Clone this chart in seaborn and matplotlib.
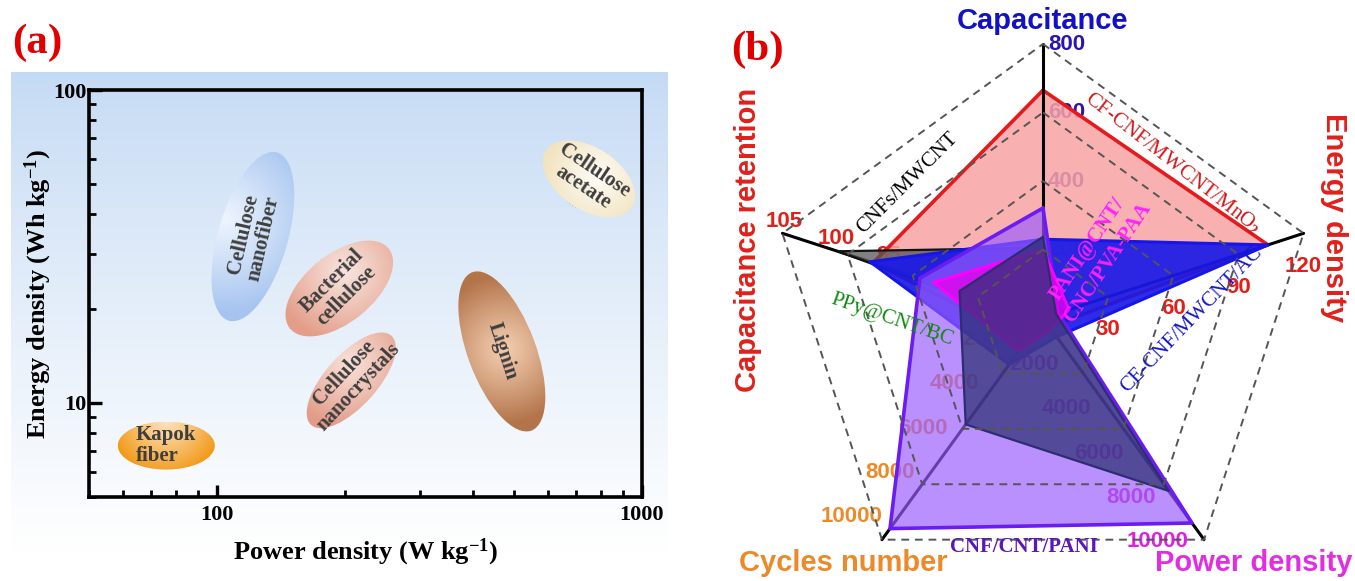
import numpy as np
import matplotlib
matplotlib.use("Agg")
import matplotlib.pyplot as plt
import seaborn as sns
from matplotlib.patches import Ellipse
from matplotlib.transforms import Affine2D, ScaledTranslation, offset_copy
from matplotlib.colors import to_rgb
from matplotlib.ticker import FixedLocator, LogLocator, NullFormatter

# ------------------------------------------------------------------ data (a)
materials = ["Kapok\nfiber", "Cellulose\nnanofiber", "Bacterial\ncellulose",
             "Cellulose\nnanocrystals", "Lignin", "Cellulose\nacetate"]
power_a = [76, 121.5, 194, 207, 468, 750]          # W kg-1
energy_a = [7.3, 34, 23.2, 11.8, 14.6, 52]          # Wh kg-1
x_ticks_a = [100, 1000]
y_ticks_a = [10, 100]

# ------------------------------------------------------------------ data (b)
radar_axes = ["Capacitance", "Energy density", "Power density",
              "Cycles number", "Capacitance retention"]
samples = ["CF-CNF/MWCNT/MnO$_2$", "CNFs/MWCNT", "CE-CNF/MWCNT/AC",
           "CNF/CNT/PANI", "PANI@CNT/\nCNC/PVA-PAA", "PPy@CNT/BC"]
capacitance = [665, 205, 230, 321, 200, 237]
energy = [103.6, 5, 103.6, 7, 12, 6]
power = [400, 300, 850, 9250, 500, 7800]
cycles = [1000, 300, 2100, 9500, 1500, 4800]
retention = [96.3, 99.7, 96.6, 91.8, 90.5, 88]

cap_ticks = [200, 400, 600, 800]
energy_ticks = [30, 60, 90, 120]
power_ticks = [2000, 4000, 6000, 8000, 10000]
cycles_ticks = [2000, 4000, 6000, 8000, 10000]
retention_ticks = [85, 90, 95, 100, 105]
axis_ranges = [(0, 800), (0, 120), (0, 10000), (0, 10000), (80, 105)]

# ------------------------------------------------------------------ styles
W, H, DPI = 1355, 581, 100
sns.set_theme(style="white")
plt.rcParams["font.family"] = ["Liberation Serif", "DejaVu Serif"]
plt.rcParams["mathtext.fontset"] = "custom"
plt.rcParams["mathtext.rm"] = "Liberation Serif:bold"
plt.rcParams["mathtext.it"] = "Liberation Serif:bold"
plt.rcParams["mathtext.bf"] = "Liberation Serif:bold"
SANS = ["Liberation Sans", "DejaVu Sans"]

fig = plt.figure(figsize=(W / DPI, H / DPI), dpi=DPI)
fig.patch.set_facecolor("white")

def fx(px):
    return px / W

def fy(py):
    return 1 - py / H

# ------------------------------------------------------------------ panel (a) background
bg = fig.add_axes([fx(11), fy(568), fx(668 - 11), (568 - 72) / H], zorder=0)
g = np.linspace(0, 1, 256)[:, None]
g = np.clip(g / 0.97, 0, 1) ** 0.85
top = np.array(to_rgb("#c4daf4"))
bot = np.array([1.0, 1.0, 1.0])
img = top[None, None, :] * (1 - g[..., None]) + bot[None, None, :] * g[..., None]
img = np.repeat(img, 4, axis=1)
bg.imshow(img, aspect="auto", extent=(0, 1, 0, 1), origin="upper")
bg.axis("off")

ax = fig.add_axes([fx(89), fy(497), fx(642 - 89), (497 - 90) / H], zorder=1)
ax.patch.set_alpha(0)
ax.set_xscale("log")
ax.set_yscale("log")
ax.set_xlim(50, 1000)
ax.set_ylim(5, 100)
ax.set_autoscale_on(False)
for s in ax.spines.values():
    s.set_visible(True)
    s.set_color("black")
    s.set_linewidth(2.6)
ax.xaxis.set_major_locator(FixedLocator(x_ticks_a))
ax.yaxis.set_major_locator(FixedLocator(y_ticks_a))
ax.set_xticklabels([str(v) for v in x_ticks_a])
ax.set_yticklabels([str(v) for v in y_ticks_a])
ax.xaxis.set_minor_locator(LogLocator(base=10, subs=np.arange(2, 10)))
ax.yaxis.set_minor_locator(LogLocator(base=10, subs=np.arange(2, 10)))
ax.xaxis.set_minor_formatter(NullFormatter())
ax.yaxis.set_minor_formatter(NullFormatter())
ax.tick_params(which="both", direction="in", bottom=True, left=True, top=False,
               right=False, color="black")
ax.tick_params(axis="x", which="major", length=9, width=2.4, pad=6)
ax.tick_params(axis="y", which="major", length=9, width=2.4, pad=2)
ax.tick_params(which="minor", length=5, width=2.0)
for lab in ax.get_xticklabels() + ax.get_yticklabels():
    lab.set_fontsize(16)
    lab.set_fontweight("bold")
    lab.set_color("black")
ax.set_xlabel("Power density (W kg$^{-1}$)", fontsize=19, fontweight="bold",
              color="black", labelpad=8)
ax.set_ylabel("Energy density (Wh kg$^{-1}$)", fontsize=19, fontweight="bold",
              color="black", labelpad=-1)

# ellipse styles: (length px, thickness px, angle, edge colour, light colour, hu, hv)
ell_style = [
    (97, 48, 0, "#f29a18", "#fde3c2", 0.5, 1.05),
    (175, 70, 74, "#a6c4f0", "#edf4fd", 0.55, 0.95),
    (127, 68, 39, "#e49d88", "#f7e4de", 0.62, 0.65),
    (120, 52, 48, "#e29c88", "#f9e0d8", 0.6, 0.75),
    (169, 68, 110.5, "#b3744a", "#f3cdb0", 0.5, 0.45),
    (103, 62, -33.5, "#f2e3bf", "#fdfbf4", 0.55, 0.6),
]
text_rot = [0, 77, 45, 47, -72, -34]

n = 160
uu = np.linspace(0, 1, n)
U, V = np.meshgrid(uu, uu)
for i, (px, py) in enumerate(zip(power_a, energy_a)):
    L, T, ang, ce, cl, hu, hv = ell_style[i]
    trans = (Affine2D().translate(-0.5, -0.5).scale(L, T).rotate_deg(ang)
             + ScaledTranslation(px, py, ax.transData))
    d = np.sqrt(((U - hu) * L) ** 2 + ((V - hv) * T) ** 2)
    d = d / d.max()
    t = np.clip(d / 0.8, 0, 1) ** 1.1
    rgb = (np.array(to_rgb(cl))[None, None, :] * (1 - t[..., None])
           + np.array(to_rgb(ce))[None, None, :] * t[..., None])
    im = ax.imshow(rgb, extent=(0, 1, 0, 1), origin="lower", transform=trans,
                   interpolation="bilinear", aspect="auto", zorder=2)
    clip = Ellipse((0.5, 0.5), 1, 1, transform=trans)
    im.set_clip_path(clip)
    ax.text(px, py, materials[i], rotation=text_rot[i], rotation_mode="anchor",
            ha="center", va="center", multialignment="left" if i == 0 else "center",
            fontsize=15, fontweight="bold", color="#3e3e3e", linespacing=1.05,
            zorder=3)
ax.set_xlim(50, 1000)
ax.set_ylim(5, 100)

fig.text(fx(37), fy(43), "(a)", fontsize=31, fontweight="bold", color="#e00000",
         ha="center", va="center")

# ------------------------------------------------------------------ panel (b) radar
cx, cy, R = 1043, 318, 274
rmax = 1.03
Rb = R * rmax
axr = fig.add_axes([fx(cx - Rb), fy(cy + Rb), 2 * Rb / W, 2 * Rb / H],
                   projection="polar", zorder=2)
axr.set_theta_zero_location("N")
axr.set_theta_direction(-1)
axr.set_ylim(0, rmax)
axr.grid(False)
axr.set_xticks([])
axr.set_yticks([])
axr.spines["polar"].set_visible(False)
axr.patch.set_visible(False)

theta = np.deg2rad(np.arange(5) * 72.0)
theta_c = np.append(theta, theta[0])

def norm(vals):
    return [(v - lo) / (hi - lo) for v, (lo, hi) in zip(vals, axis_ranges)]

# grid pentagons
for lev in [0.25, 0.5, 0.75, 1.0]:
    axr.plot(theta_c, [lev] * 6, ls=(0, (4, 3)), color="#555555", lw=1.4, zorder=9)

series_style = [
    # edge, fill, alpha, lw, zorder
    ("#e41a1c", "#f8a3a3", 0.85, 2.6, 2),
    ("#111111", "#555555", 0.75, 1.6, 4),
    ("#1616e6", "#1a1ae8", 0.92, 2.2, 5),
    ("#6a1cf2", "#9a5cff", 0.68, 2.6, 6),
    ("#ff00ff", "#ee00ee", 0.75, 2.0, 7),
    ("#2d2d70", "#2c2f72", 0.72, 1.6, 8),
]
for k in range(len(samples)):
    vals = norm([capacitance[k], energy[k], power[k], cycles[k], retention[k]])
    r = np.append(vals, vals[0])
    ec, fc, al, lw, z = series_style[k]
    axr.fill(theta_c, r, color=fc, alpha=al, zorder=z, lw=0)
    axr.plot(theta_c, r, color=ec, lw=lw, zorder=z + 0.1)

# spokes
for th in theta:
    axr.plot([th, th], [0, 1], color="black", lw=2.2, zorder=3)

# tick labels (below the fills)
tick_sets = [cap_ticks, energy_ticks, power_ticks, cycles_ticks, retention_ticks]
tick_cols = ["#2a14b4", "#e0201b", "#e020e0", "#ec8a2a", "#e0201b"]
tick_off = [(5, 0, "left"), (0, -33, "center"), (-16, -2, "right"),
            (1, 23, "right"), (2, 12, "center")]
for a in range(5):
    lo, hi = axis_ranges[a]
    dx, dy, ha = tick_off[a]
    tr = offset_copy(axr.transData, fig=fig, x=dx, y=dy, units="dots")
    for v in tick_sets[a]:
        axr.text(theta[a], (v - lo) / (hi - lo), str(v), transform=tr, ha=ha,
                 va="center", fontsize=16, fontweight="bold", color=tick_cols[a],
                 family=SANS, zorder=1)

# axis titles
fig.text(fx(1043), fy(21), radar_axes[0], ha="center", va="center", fontsize=21,
         fontweight="bold", color="#1212c4", family=SANS)
fig.text(fx(1334), fy(218), radar_axes[1], ha="center", va="center", fontsize=21,
         fontweight="bold", color="#e0201b", family=SANS, rotation=-90)
fig.text(fx(1254), fy(563), radar_axes[2], ha="center", va="center", fontsize=21,
         fontweight="bold", color="#e22ee2", family=SANS)
fig.text(fx(843), fy(563), radar_axes[3], ha="center", va="center", fontsize=21,
         fontweight="bold", color="#ec8a2a", family=SANS)
fig.text(fx(748), fy(240), radar_axes[4], ha="center", va="center", fontsize=21,
         fontweight="bold", color="#e0201b", family=SANS, rotation=90)

# sample labels
label_pos = [(1173, 163, -38, "#d0191b", "normal"),
             (908, 183, 45, "black", "normal"),
             (1192, 320, 46, "#1414c8", "normal"),
             (1024, 547, 0, "#5a18b8", "bold"),
             (1098, 256, 56, "#ff20ff", "bold"),
             (892, 320, -19, "#108a10", "normal")]
for k, name in enumerate(samples):
    x0, y0, rot, col, wt = label_pos[k]
    fig.text(fx(x0), fy(y0), name, ha="center", va="center", rotation=rot,
             rotation_mode="anchor", fontsize=15, color=col, fontweight=wt,
             linespacing=1.3, zorder=20)

fig.text(fx(757), fy(50), "(b)", fontsize=31, fontweight="bold", color="#e00000",
         ha="center", va="center")

fig.savefig("out.png", dpi=DPI, facecolor="white")
